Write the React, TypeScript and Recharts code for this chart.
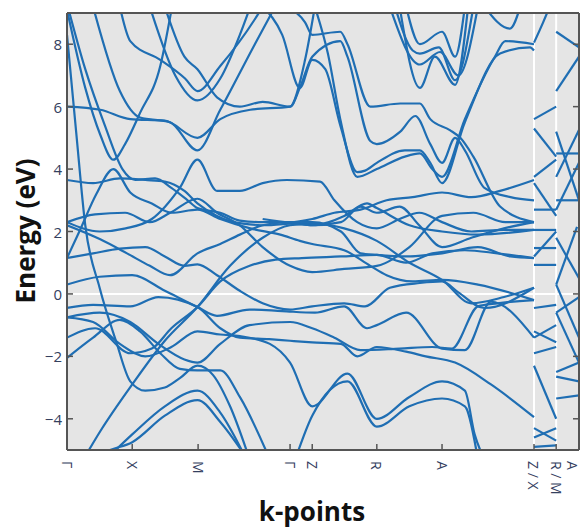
import React from 'react';
import { LineChart, Line, XAxis, YAxis, CartesianGrid } from 'recharts';

// k-path Γ-X-M-Γ-Z-R-A-Z | X-R | M-A  (k in units of Γ-X)
const kTicks = [0, 1, 2.01, 3.42, 3.76, 4.75, 5.75, 7.16, 7.5, 7.82];
const kLabels = ['Γ', 'X', 'M', 'Γ', 'Z', 'R', 'A', 'Z / X', 'R / M', 'A'];
const eTicks = [-4, -2, 0, 2, 4, 6, 8];
const eLabels = ['−4', '−2', '0', '2', '4', '6', '8'];
const segBreaks = [7.16, 7.5];

// bands along the main path, [k, E (eV)]
const bandU1 = [[0, 9.1], [0.28, 6.6], [0.51, 5.1], [0.71, 4.3], [0.89, 4.8], [1.12, 5.8], [1.43, 7.3], [1.61, 9.2]];
const bandU2 = [[0.4, 9.2], [0.81, 6.5], [1.12, 5.65], [1.58, 5.5], [2.0, 4.6], [2.35, 5.9], [2.88, 8.0], [3.19, 9.2]];
const bandU3 = [[0, 6.0], [0.51, 5.9], [0.97, 5.6], [1.5, 5.55], [2.0, 5.0], [2.35, 5.6], [2.81, 5.9], [3.42, 6.0], [3.65, 7.5], [3.8, 9.2]];
const bandU4 = [[0.81, 9.2], [0.97, 8.1], [1.43, 7.5], [1.81, 6.9], [2.0, 6.5], [2.35, 7.3], [2.88, 8.8], [3.0, 9.2]];
const bandU5 = [[1.27, 9.2], [1.66, 7.0], [2.0, 6.2], [2.35, 6.9], [2.65, 8.3], [2.81, 9.2]];
const bandU6 = [[0, 9.3], [0.28, 7.2], [0.58, 5.4], [0.85, 4.0], [1.05, 3.65], [1.35, 3.7], [1.6, 3.4], [1.85, 3.0], [2.0, 2.75], [2.35, 2.6], [2.65, 2.35], [3.0, 2.3], [3.42, 2.3], [3.76, 2.2], [4.25, 2.5], [4.6, 2.9], [4.75, 2.75], [5.25, 2.2], [5.75, 2.0], [6.3, 1.9], [7.16, 2.05]];
const bandU7 = [[0, 8.3], [0.14, 5.2], [0.28, 2.2], [0.5, 0.2], [0.75, -1.5], [0.97, -2.8], [1.2, -3.1], [1.5, -3.0], [1.73, -2.7], [2.0, -2.3], [2.24, -2.6], [2.5, -3.6], [2.8, -5.3]];

const bandV1 = [[0.35, -5.3], [0.66, -5.0], [1.0, -4.75], [1.5, -3.9], [2.0, -3.4], [2.35, -4.1], [2.8, -5.4]];
const bandV2 = [[0.6, -5.3], [1.0, -4.5], [1.5, -3.6], [2.0, -3.1], [2.35, -3.8], [2.75, -5.3]];
const bandV3 = [[0.28, -5.2], [0.51, -4.4], [1.0, -2.9], [1.5, -1.5], [2.0, -0.42], [2.5, 0.9], [3.0, 1.8], [3.42, 2.2], [3.76, 2.25], [4.25, 2.1], [4.75, 1.7], [5.25, 1.0], [5.75, 0.45], [6.2, -0.3], [6.7, -0.1], [7.16, 0.2]];
const bandV4 = [[0, -2.05], [0.4, -1.4], [0.81, -0.83], [1.12, -1.2], [1.43, -1.9], [1.73, -2.4], [2.0, -2.45], [2.35, -2.45], [2.65, -3.3], [3.11, -5.3]];
const bandV5 = [[0, -1.4], [0.43, -1.1], [0.97, -1.9], [1.3, -1.75], [1.6, -1.1], [2.0, -0.42], [2.35, 0.4], [2.8, 0.9], [3.2, 1.1], [3.6, 1.15], [4.2, 1.2], [4.75, 1.25], [5.2, 1.0], [5.6, 1.3], [6.1, 1.4], [6.6, 1.3], [7.16, 1.15]];
const bandV6 = [[0, -0.75], [0.4, -0.9], [0.81, -1.6], [1.2, -2.0], [1.6, -1.7], [2.0, -1.2], [2.35, -1.3], [2.65, -1.35], [3.11, -1.6], [3.42, -2.2], [3.76, -3.6], [4.3, -2.55], [4.75, -4.0], [5.25, -3.3], [5.75, -2.8], [6.1, -3.1], [6.25, -4.5], [6.4, -5.3]];
const bandV7 = [[3.5, -5.3], [3.76, -3.9], [4.3, -2.8], [4.75, -4.25], [5.25, -3.6], [5.75, -3.35], [6.1, -3.6], [6.3, -5.3]];
const bandV8 = [[0, -0.45], [0.4, -0.35], [0.97, -0.4], [1.4, -0.1], [2.0, -0.42], [2.35, -1.1], [2.65, -1.4], [3.1, -1.45], [3.42, -1.5], [3.76, -1.55], [4.2, -1.6], [4.45, -2.0], [4.75, -1.7], [5.2, -1.85], [5.5, -2.0], [5.95, -2.2], [6.5, -2.9], [7.16, -3.95]];
const bandV9 = [[0, 0.3], [0.5, 0.55], [1.0, 0.6], [1.5, 0.1], [2.0, -0.42], [2.3, -0.7], [2.8, -0.5], [3.3, -0.55], [3.8, -0.6], [4.25, -0.4], [4.6, -1.1], [4.75, -1.0], [5.2, -0.6], [5.75, -1.75], [6.1, -1.8], [6.5, -0.25], [7.16, -1.4]];
const bandV10 = [[0, 1.15], [0.4, 1.3], [0.81, 1.45], [1.2, 1.5], [1.5, 1.2], [1.8, 0.9], [2.0, 0.95], [2.3, 0.6], [2.65, 0.1], [3.0, -0.3], [3.42, -0.5], [3.76, -0.4], [4.25, -0.3], [4.57, -0.4], [4.95, 0.2], [5.41, 0.35], [5.75, 0.4], [6.0, 0.05], [6.4, -0.45], [7.16, 0.2]];
const bandV11 = [[0, -0.75], [0.5, -0.6], [0.97, -0.9], [1.4, -1.6], [1.8, -2.1], [2.0, -2.2], [2.35, -1.6], [2.8, -1.0], [3.42, -0.9], [3.76, -1.1], [4.1, -1.4], [4.5, -1.8], [5.1, -1.75], [5.6, -1.7], [5.9, -1.75], [6.3, -0.4], [6.6, -0.3], [7.16, -0.2]];

const bandM1 = [[0, 3.65], [0.4, 3.55], [0.81, 3.7], [1.2, 3.65], [1.5, 3.6], [1.8, 3.3], [2.0, 2.9], [2.3, 2.5], [2.7, 2.25], [3.1, 2.2], [3.42, 2.25], [3.76, 2.2], [4.2, 2.3], [4.5, 2.8], [4.75, 2.6], [5.1, 2.8], [5.4, 2.2], [5.75, 1.5], [6.2, 1.8], [6.7, 2.1], [7.16, 2.3]];
const bandM2 = [[0, 2.2], [0.51, 1.75], [0.92, 1.3], [1.27, 0.9], [1.58, 0.6], [2.0, 1.3], [2.35, 1.6], [2.65, 1.9], [3.0, 2.2], [3.42, 2.3], [3.76, 2.3], [4.2, 2.0], [4.5, 1.3], [4.75, 1.25], [5.2, 1.2], [5.75, 1.3], [6.3, 1.5], [6.8, 1.2], [7.16, 1.15]];
const bandM3 = [[0, 2.3], [0.43, 2.55], [0.89, 2.6], [1.27, 2.3], [1.58, 2.6], [2.0, 3.05], [2.3, 2.6], [2.65, 2.2], [3.0, 1.5], [3.42, 0.9], [3.76, 0.7], [4.25, 0.8], [4.75, 0.9], [5.25, 1.5], [5.75, 2.5], [6.23, 2.6], [6.72, 2.3], [7.16, 2.3]];
const bandM4 = [[0, 1.15], [0.2, 2.05], [0.45, 3.2], [0.71, 4.0], [0.97, 3.25], [1.3, 2.9], [1.6, 2.6], [2.0, 2.7], [2.35, 2.4], [2.81, 2.1], [3.27, 1.9], [3.57, 1.7], [3.76, 1.6], [4.25, 1.4], [4.65, 0.9], [4.9, 0.6], [5.3, 0.4], [5.75, 0.45], [6.3, 0.3], [7.16, -0.2]];
const bandM5 = [[0, 2.3], [0.5, 2.0], [0.9, 2.1], [1.3, 2.4], [1.73, 3.4], [2.0, 4.3], [2.3, 3.3], [2.65, 3.3], [3.0, 3.55], [3.37, 3.65], [3.88, 3.6], [4.1, 3.0], [4.45, 2.3], [4.75, 2.1], [5.1, 2.4], [5.4, 2.6], [5.75, 2.3], [6.2, 2.0], [6.7, 2.05], [7.16, 2.05]];

const bandZ1 = [[3.37, 9.2], [3.65, 8.7], [3.76, 8.3], [4.19, 8.4], [4.3, 8.0], [4.65, 6.0], [5.11, 6.1], [5.41, 6.1], [5.57, 5.6], [5.87, 5.25], [6.03, 5.0], [6.23, 4.4], [6.64, 2.8], [7.16, 2.3]];
const bandZ2 = [[1.5, 9.2], [1.8, 7.6], [2.0, 7.2], [2.3, 6.3], [2.65, 6.0], [3.0, 6.15], [3.42, 6.0], [3.57, 6.6], [3.76, 7.6], [4.19, 8.1], [4.3, 7.6], [4.65, 4.9], [4.75, 4.8], [5.11, 5.2], [5.34, 5.7], [5.57, 4.8], [5.75, 4.2], [5.95, 5.0], [6.1, 4.6], [6.4, 3.4], [6.8, 3.1], [7.16, 3.0]];
const bandZ3 = [[3.0, 9.2], [3.3, 8.3], [3.57, 6.6], [3.76, 7.5], [3.96, 7.2], [4.19, 5.4], [4.45, 3.9], [4.57, 3.95], [4.75, 4.2], [5.18, 4.6], [5.41, 4.6], [5.57, 4.2], [5.75, 3.55], [6.1, 5.5], [6.64, 7.7], [7.1, 7.9], [7.16, 7.8]];
const bandZ4 = [[3.8, 9.2], [4.0, 7.7], [4.19, 5.6], [4.45, 3.75], [4.75, 4.0], [5.18, 4.4], [5.41, 4.5], [5.6, 4.0], [5.75, 3.75], [6.1, 5.6], [6.56, 7.6], [6.72, 8.1], [7.16, 8.0]];
const bandZ5 = [[3.0, 2.4], [3.42, 2.3], [3.76, 2.4], [4.1, 2.6], [4.5, 2.7], [4.9, 3.0], [5.3, 3.1], [5.75, 3.25], [6.2, 3.1], [6.64, 3.3], [7.16, 3.65]];

const bandW1 = [[5.03, 9.2], [5.3, 7.8], [5.41, 7.7], [5.7, 7.9], [5.95, 6.85], [6.23, 9.2]];
const bandW2 = [[5.1, 9.2], [5.41, 6.6], [5.64, 7.6], [5.95, 6.7], [6.15, 9.2]];
const bandW3 = [[4.95, 9.2], [5.41, 7.35], [5.72, 7.75], [6.0, 7.0], [6.3, 9.2]];
const bandW4 = [[6.4, 9.2], [6.79, 8.5], [6.95, 9.2]];
const bandW5 = [[5.2, 9.2], [5.41, 8.0], [5.75, 8.4], [5.95, 7.6], [6.1, 9.2]];

// X-R piece
const xrBands = [
  [[7.16, 8.05], [7.3, 8.7], [7.4, 9.2]],
  [[7.16, 5.6], [7.5, 6.0]],
  [[7.16, 5.3], [7.5, 4.4]],
  [[7.16, 3.75], [7.5, 4.3]],
  [[7.16, 3.55], [7.5, 2.5]],
  [[7.16, 2.7], [7.5, 2.7]],
  [[7.16, 2.05], [7.5, 2.05]],
  [[7.16, 1.47], [7.5, 1.47]],
  [[7.16, 0.93], [7.5, 0.93]],
  [[7.16, 1.2], [7.5, 2.0]],
  [[7.16, -0.45], [7.5, -0.35]],
  [[7.16, -1.4], [7.5, -1.0]],
  [[7.16, -1.2], [7.5, -1.55]],
  [[7.16, -1.9], [7.5, -1.7]],
  [[7.16, -2.3], [7.5, -4.0]],
  [[7.16, -4.6], [7.5, -4.3]],
  [[7.16, -4.3], [7.5, -4.7]],
  [[7.16, -4.9], [7.5, -4.85]],
];

// M-A piece
const maBands = [
  [[7.5, 8.4], [7.85, 7.9]],
  [[7.5, 6.5], [7.85, 7.6]],
  [[7.5, 5.2], [7.85, 3.0]],
  [[7.5, 4.5], [7.85, 4.5]],
  [[7.5, 3.0], [7.85, 3.0]],
  [[7.5, 3.75], [7.85, 5.25]],
  [[7.5, 2.7], [7.85, 4.2]],
  [[7.5, 0.3], [7.82, 2.15]],
  [[7.5, 0.3], [7.85, -1.4]],
  [[7.5, 1.8], [7.85, 0.5]],
  [[7.5, -0.6], [7.85, -0.1]],
  [[7.5, -0.6], [7.85, -2.2]],
  [[7.5, -2.5], [7.85, -2.2]],
  [[7.5, -2.65], [7.85, -2.8]],
  [[7.5, -3.35], [7.85, -3.25]],
];

const mainBands = [
  bandU1, bandU2, bandU3, bandU4, bandU5, bandU6, bandU7,
  bandV1, bandV2, bandV3, bandV4, bandV5, bandV6, bandV7, bandV8, bandV9, bandV10, bandV11,
  bandM1, bandM2, bandM3, bandM4, bandM5,
  bandZ1, bandZ2, bandZ3, bandZ4, bandZ5,
  bandW1, bandW2, bandW3, bandW4, bandW5,
];

const allBands = [...mainBands, ...xrBands, ...maBands].map((b) => b.map(([k, e]) => ({ k, e })));

const lineColor = '#1f6eb3';
const tickColor = '#34405e';
const frameColor = '#555555';

const KTick = (props) => {
  const { x, y, index } = props;
  // last label sits on the right edge, nudge it inside
  const lx = index === kTicks.length - 1 ? x - 5 : x;
  return (
    <g>
      {index > 0 && index < kTicks.length - 1 && (
        <line x1={x} x2={x} y1={y} y2={y - 6} stroke={frameColor} strokeWidth={1.5} />
      )}
      <text
        transform={`translate(${lx},${y + 11}) rotate(90)`}
        dominantBaseline="central"
        fontSize={14}
        fontFamily="'Open Sans', sans-serif"
        fill={tickColor}
      >
        {kLabels[index]}
      </text>
    </g>
  );
};

const ETick = (props) => {
  const { x, y, index } = props;
  return (
    <g>
      <line x1={x} x2={x + 6} y1={y} y2={y} stroke={frameColor} strokeWidth={1.5} />
      <text x={x - 5} y={y} textAnchor="end" dominantBaseline="central" fontSize={15} fontFamily="'Open Sans', sans-serif" fill={tickColor}>
        {eLabels[index]}
      </text>
    </g>
  );
};

const ETickRight = (props) => {
  const { x, y } = props;
  return <line x1={x} x2={x - 6} y1={y} y2={y} stroke={frameColor} strokeWidth={1.5} />;
};

export default function App() {
  return (
    <div style={{ position: 'absolute', left: 0, top: 0, width: 581, height: 528, background: '#fff' }}>
      <LineChart width={581} height={528} margin={{ top: 0, right: 0, bottom: 0, left: 0 }}>
        <CartesianGrid fill="#e5e5e5" stroke="#ffffff" strokeWidth={2} horizontalValues={[0]} verticalValues={segBreaks} />
        <XAxis
          dataKey="k"
          type="number"
          domain={[0, 7.85]}
          ticks={kTicks}
          allowDataOverflow
          height={78}
          tickSize={0}
          tickMargin={0}
          tickLine={false}
          interval={0}
          tick={KTick}
          axisLine={{ stroke: frameColor, strokeWidth: 2 }}
        />
        <XAxis
          xAxisId="top"
          orientation="top"
          dataKey="k"
          type="number"
          domain={[0, 7.85]}
          allowDataOverflow
          height={13}
          tick={false}
          tickLine={false}
          axisLine={{ stroke: frameColor, strokeWidth: 2 }}
        />
        <YAxis
          type="number"
          domain={[-5, 9]}
          ticks={eTicks}
          allowDataOverflow
          width={67}
          tickSize={0}
          tickMargin={0}
          tickLine={false}
          interval={0}
          tick={ETick}
          axisLine={{ stroke: frameColor, strokeWidth: 2 }}
        />
        <YAxis
          yAxisId="right"
          orientation="right"
          type="number"
          domain={[-5, 9]}
          ticks={eTicks}
          allowDataOverflow
          width={2}
          tickSize={0}
          tickMargin={0}
          tickLine={false}
          interval={0}
          tick={ETickRight}
          axisLine={{ stroke: frameColor, strokeWidth: 2 }}
        />
        {allBands.map((b, i) => (
          <Line
            key={i}
            data={b}
            dataKey="e"
            type="monotone"
            stroke={lineColor}
            strokeWidth={2.2}
            dot={false}
            activeDot={false}
            isAnimationActive={false}
          />
        ))}
      </LineChart>
      <div
        style={{
          position: 'absolute',
          left: 25,
          top: 231,
          transform: 'translate(-50%, -50%) rotate(-90deg)',
          fontFamily: "'Open Sans', sans-serif",
          fontWeight: 700,
          fontSize: 26,
          color: '#111',
          whiteSpace: 'nowrap',
        }}
      >
        Energy (eV)
      </div>
      <div
        style={{
          position: 'absolute',
          left: 312,
          top: 511,
          transform: 'translate(-50%, -50%)',
          fontFamily: "'Open Sans', sans-serif",
          fontWeight: 700,
          fontSize: 26,
          color: '#111',
          whiteSpace: 'nowrap',
        }}
      >
        k-points
      </div>
    </div>
  );
}
